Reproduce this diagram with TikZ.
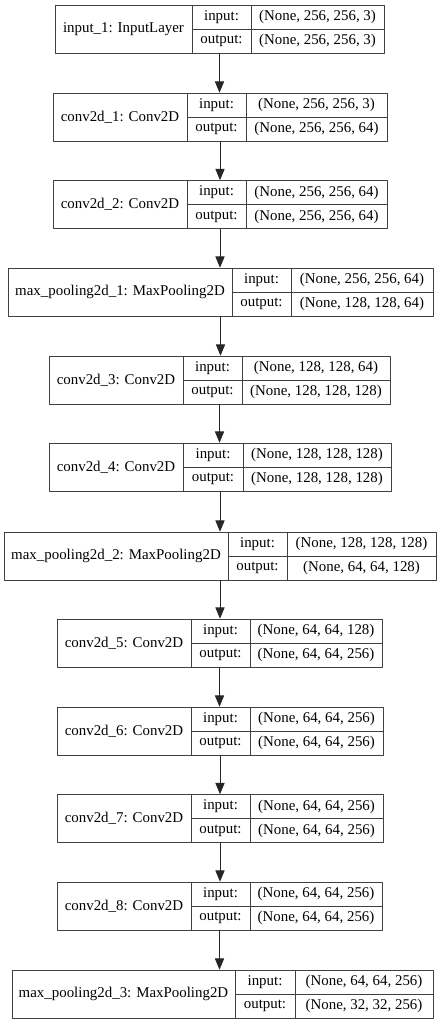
\documentclass[tikz,border=0pt]{standalone}
\usepackage{fontspec}
\setmainfont{Liberation Serif}
\usetikzlibrary{fit,arrows.meta}
% one layer: name, top, left, split1, split2, right, label, input shape, output shape
\newcommand{\layer}[9]{%
	\node[box, fit={(#3,#2) (#6,#2+48)}] (#1) {};
	\node[cell, fit={(#3,#2) (#4,#2+48)}] (#1name) {};
	\node[cell, fit={(#4,#2) (#5,#2+24)}] (#1inl) {};
	\node[cell, fit={(#4,#2+24) (#5,#2+48)}] (#1outl) {};
	\node[cell, fit={(#5,#2) (#6,#2+24)}] (#1in) {};
	\node[cell, fit={(#5,#2+24) (#6,#2+48)}] (#1out) {};
	\node[txt] (#1nametxt) at (#1name.center) {#7};
	\node[txt] (#1inltxt) at (#1inl.center) {input:};
	\node[txt] (#1outltxt) at (#1outl.center) {output:};
	\node[txt] (#1intxt) at (#1in.center) {#8};
	\node[txt] (#1outtxt) at (#1out.center) {#9};
}
\begin{document}
\begin{tikzpicture}[x=0.025cm,y=-0.025cm,line join=round,font=\fontsize{10.6}{12}\selectfont,
	box/.style={inner sep=0pt},
	cell/.style={draw=black!75,line width=0.7pt,inner sep=0pt},
	txt/.style={inner sep=0pt,anchor=center},
	flow/.style={draw=black!85,line width=0.7pt,-{Triangle[length=8pt,width=6.5pt]}}]
	\useasboundingbox (0,0) rectangle (440,1024);
	\layer{L1}{5}{55}{192}{251}{384}{input\_1: InputLayer}{(None, 256, 256, 3)}{(None, 256, 256, 3)}
	\layer{L2}{93}{53}{187}{246}{387}{conv2d\_1: Conv2D}{(None, 256, 256, 3)}{(None, 256, 256, 64)}
	\layer{L3}{180.5}{53}{187}{246}{387}{conv2d\_2: Conv2D}{(None, 256, 256, 64)}{(None, 256, 256, 64)}
	\layer{L4}{268}{8}{232}{291}{433}{max\_pooling2d\_1: MaxPooling2D}{(None, 256, 256, 64)}{(None, 128, 128, 64)}
	\layer{L5}{356}{49}{183}{242}{390}{conv2d\_3: Conv2D}{(None, 128, 128, 64)}{(None, 128, 128, 128)}
	\layer{L6}{443}{49}{183}{243}{391}{conv2d\_4: Conv2D}{(None, 128, 128, 128)}{(None, 128, 128, 128)}
	\layer{L7}{532}{4}{228}{287}{436}{max\_pooling2d\_2: MaxPooling2D}{(None, 128, 128, 128)}{(None, 64, 64, 128)}
	\layer{L8}{619}{57}{191}{250}{382}{conv2d\_5: Conv2D}{(None, 64, 64, 128)}{(None, 64, 64, 256)}
	\layer{L9}{707}{57}{191}{250}{383}{conv2d\_6: Conv2D}{(None, 64, 64, 256)}{(None, 64, 64, 256)}
	\layer{L10}{794.5}{57}{191}{250}{383}{conv2d\_7: Conv2D}{(None, 64, 64, 256)}{(None, 64, 64, 256)}
	\layer{L11}{882}{57}{191}{250}{382}{conv2d\_8: Conv2D}{(None, 64, 64, 256)}{(None, 64, 64, 256)}
	\layer{L12}{970}{12}{235}{295}{433}{max\_pooling2d\_3: MaxPooling2D}{(None, 64, 64, 256)}{(None, 32, 32, 256)}
	\foreach \a/\b in {L1/L2,L2/L3,L3/L4,L4/L5,L5/L6,L6/L7,L7/L8,L8/L9,L9/L10,L10/L11,L11/L12}
	\draw[flow] (\a.south) -- (\a.south |- \b.north);
\end{tikzpicture}
\end{document}
